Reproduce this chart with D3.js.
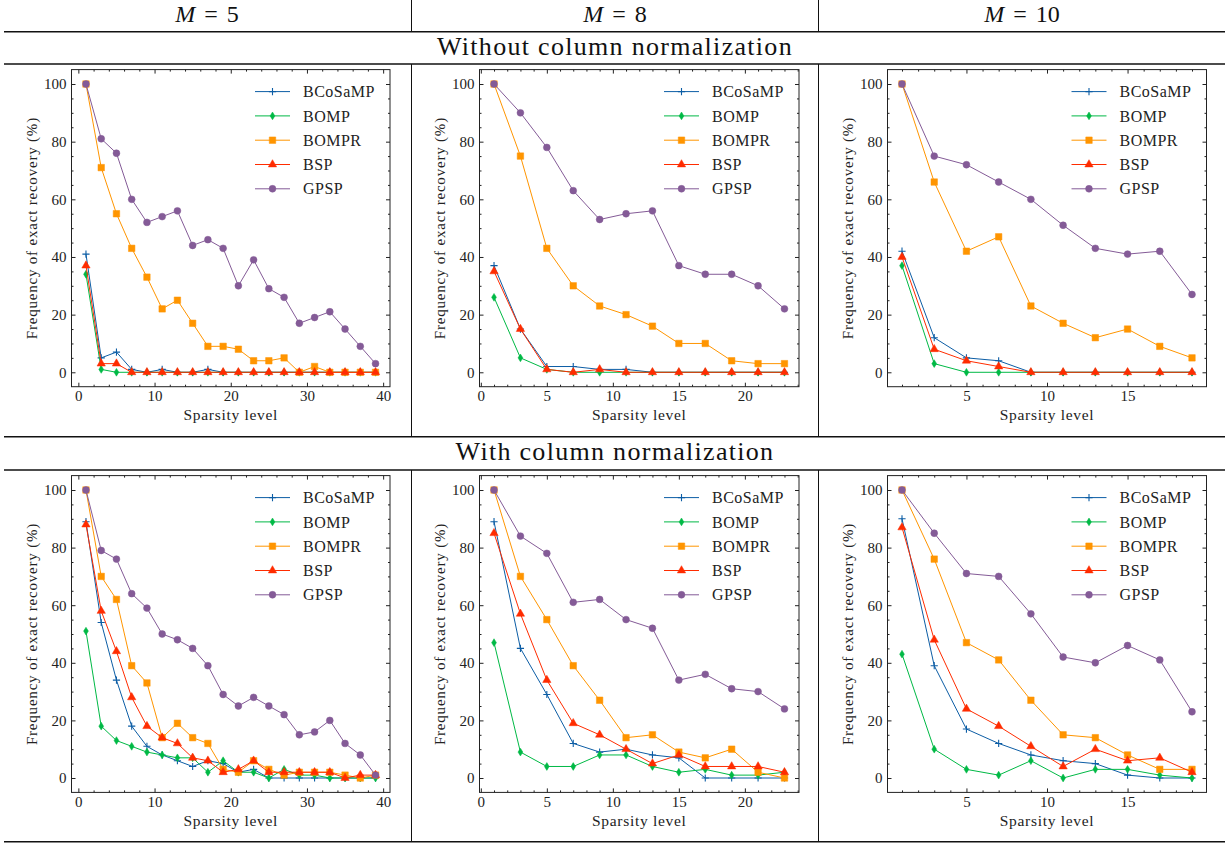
<!DOCTYPE html>
<html>
<head>
<meta charset="utf-8">
<script src="https://cdn.jsdelivr.net/npm/d3@7"></script>
<style>
  body { margin: 0; background: #fff; }
  svg { display: block; font-family: "Liberation Serif", serif; }
</style>
</head>
<body>
<svg width="1225" height="843"></svg>
<script>
// sparsity levels for each M
const sparsityM5 = [1, 3, 5, 7, 9, 11, 13, 15, 17, 19, 21, 23, 25, 27, 29, 31, 33, 35, 37, 39];
const sparsityM8 = [1, 3, 5, 7, 9, 11, 13, 15, 17, 19, 21, 23];
const sparsityM10 = [1, 3, 5, 7, 9, 11, 13, 15, 17, 19];

const algorithms = ["BCoSaMP", "BOMP", "BOMPR", "BSP", "GPSP"];
const columnTitles = ["5", "8", "10"];
const rowTitles = ["Without column normalization", "With column normalization"];

// without column normalization
const bcosampM5Raw = [41, 5, 7, 1, 0, 1, 0, 0, 1, 0, 0, 0, 0, 0, 0, 0, 0, 0, 0, 0];
const bompM5Raw = [34, 1, 0, 0, 0, 0, 0, 0, 0, 0, 0, 0, 0, 0, 0, 0, 0, 0, 0, 0];
const bomprM5Raw = [100, 71, 55, 43, 33, 22, 25, 17, 9, 9, 8, 4, 4, 5, 0, 2, 0, 0, 0, 0];
const bspM5Raw = [37, 3, 3, 0, 0, 0, 0, 0, 0, 0, 0, 0, 0, 0, 0, 0, 0, 0, 0, 0];
const gpspM5Raw = [100, 81, 76, 60, 52, 54, 56, 44, 46, 43, 30, 39, 29, 26, 17, 19, 21, 15, 9, 3];

const bcosampM8Raw = [37, 15, 2, 2, 1, 1, 0, 0, 0, 0, 0, 0];
const bompM8Raw = [26, 5, 1, 0, 0, 0, 0, 0, 0, 0, 0, 0];
const bomprM8Raw = [100, 75, 43, 30, 23, 20, 16, 10, 10, 4, 3, 3];
const bspM8Raw = [35, 15, 1, 0, 1, 0, 0, 0, 0, 0, 0, 0];
const gpspM8Raw = [100, 90, 78, 63, 53, 55, 56, 37, 34, 34, 30, 22];

const bcosampM10Raw = [42, 12, 5, 4, 0, 0, 0, 0, 0, 0];
const bompM10Raw = [37, 3, 0, 0, 0, 0, 0, 0, 0, 0];
const bomprM10Raw = [100, 66, 42, 47, 23, 17, 12, 15, 9, 5];
const bspM10Raw = [40, 8, 4, 2, 0, 0, 0, 0, 0, 0];
const gpspM10Raw = [100, 75, 72, 66, 60, 51, 43, 41, 42, 27];

// with column normalization
const bcosampM5Norm = [89, 54, 34, 18, 11, 8, 6, 4, 6, 5, 2, 3, 0, 0, 0, 0, 0, 0, 0, 0];
const bompM5Norm = [51, 18, 13, 11, 9, 8, 7, 7, 2, 6, 2, 2, 0, 3, 1, 1, 0, 0, 0, 0];
const bomprM5Norm = [100, 70, 62, 39, 33, 14, 19, 14, 12, 3, 2, 6, 3, 1, 2, 2, 2, 1, 0, 1];
const bspM5Norm = [88, 58, 44, 28, 18, 14, 12, 7, 6, 2, 3, 6, 2, 2, 2, 2, 2, 0, 1, 1];
const gpspM5Norm = [100, 79, 76, 64, 59, 50, 48, 45, 39, 29, 25, 28, 25, 22, 15, 16, 20, 12, 8, 1];

const bcosampM8Norm = [89, 45, 29, 12, 9, 10, 8, 7, 0, 0, 0, 0];
const bompM8Norm = [47, 9, 4, 4, 8, 8, 4, 2, 3, 1, 1, 2];
const bomprM8Norm = [100, 70, 55, 39, 27, 14, 15, 9, 7, 10, 2, 0];
const bspM8Norm = [85, 57, 34, 19, 15, 10, 5, 8, 4, 4, 4, 2];
const gpspM8Norm = [100, 84, 78, 61, 62, 55, 52, 34, 36, 31, 30, 24];

const bcosampM10Norm = [90, 39, 17, 12, 8, 6, 5, 1, 0, 0];
const bompM10Norm = [43, 10, 3, 1, 6, 0, 3, 3, 1, 0];
const bomprM10Norm = [100, 76, 47, 41, 27, 15, 14, 8, 3, 3];
const bspM10Norm = [87, 48, 24, 18, 11, 4, 10, 6, 7, 2];
const gpspM10Norm = [100, 85, 71, 70, 57, 42, 40, 46, 41, 23];

const xMajorM5 = [0, 10, 20, 30, 40];
const xMajorM8 = [0, 5, 10, 15, 20];
const xMajorM10 = [5, 10, 15];
const yMajor = [0, 20, 40, 60, 80, 100];

const panels = [
  { row: 0, col: 0, x: sparsityM5, xMajor: xMajorM5, minorStep: 2, series: [bcosampM5Raw, bompM5Raw, bomprM5Raw, bspM5Raw, gpspM5Raw] },
  { row: 0, col: 1, x: sparsityM8, xMajor: xMajorM8, minorStep: 1, series: [bcosampM8Raw, bompM8Raw, bomprM8Raw, bspM8Raw, gpspM8Raw] },
  { row: 0, col: 2, x: sparsityM10, xMajor: xMajorM10, minorStep: 1, series: [bcosampM10Raw, bompM10Raw, bomprM10Raw, bspM10Raw, gpspM10Raw] },
  { row: 1, col: 0, x: sparsityM5, xMajor: xMajorM5, minorStep: 2, series: [bcosampM5Norm, bompM5Norm, bomprM5Norm, bspM5Norm, gpspM5Norm] },
  { row: 1, col: 1, x: sparsityM8, xMajor: xMajorM8, minorStep: 1, series: [bcosampM8Norm, bompM8Norm, bomprM8Norm, bspM8Norm, gpspM8Norm] },
  { row: 1, col: 2, x: sparsityM10, xMajor: xMajorM10, minorStep: 1, series: [bcosampM10Norm, bompM10Norm, bomprM10Norm, bspM10Norm, gpspM10Norm] }
];

const svg = d3.select("svg");
const width = +svg.attr("width");

const color = d3.scaleOrdinal()
  .domain(algorithms)
  .range(["#0C5DA5", "#00B945", "#FF9500", "#FF2C00", "#845B97"]);

// marker shapes, matplotlib style: + d s ^ o
const markerPath = {
  BCoSaMP: "M-3.6,0H3.6M0,-3.6V3.6",
  BOMP: "M0,-3.9L2.4,0L0,3.9L-2.4,0Z",
  BOMPR: d3.symbol(d3.symbolSquare, 42)(),
  BSP: d3.symbol(d3.symbolTriangle, 30)(),
  GPSP: d3.symbol(d3.symbolCircle, 37)()
};

// table layout
const colBox = [[71.5, 390], [479.5, 799], [887.5, 1206.5]];
const rowBox = [[69.6, 386.7], [475.6, 792.4]];
const colCenters = [207, 615, 1022];
const vLines = [411.5, 818.5];

const table = svg.append("g");
[31.7, 64, 436.7, 470, 841.7].forEach(y => {
  table.append("line").attr("x1", 4).attr("x2", width).attr("y1", y).attr("y2", y)
    .attr("stroke", "#111").attr("stroke-width", 1.5);
});
[[0, 31.7], [64, 436.7], [470, 841.7]].forEach(([y1, y2]) => {
  vLines.forEach(x => {
    table.append("line").attr("x1", x).attr("x2", x).attr("y1", y1).attr("y2", y2)
      .attr("stroke", "#111").attr("stroke-width", 1);
  });
});

columnTitles.forEach((m, i) => {
  const t = svg.append("text")
    .attr("x", colCenters[i]).attr("y", 22)
    .attr("text-anchor", "middle")
    .style("font-size", "24px").style("fill", "#111");
  t.append("tspan").style("font-style", "italic").text("M");
  t.append("tspan").attr("dx", 9).text("=");
  t.append("tspan").attr("dx", 9).text(m);
});

[55, 460].forEach((y, i) => {
  svg.append("text")
    .attr("x", 615).attr("y", y)
    .attr("text-anchor", "middle")
    .style("font-size", "26px").style("letter-spacing", "1.3px").style("fill", "#111")
    .text(rowTitles[i]);
});

panels.forEach(p => {
  const [left, right] = colBox[p.col];
  const [top, bottom] = rowBox[p.row];
  const xMin = d3.min(p.x), xMax = d3.max(p.x);
  const pad = (xMax - xMin) * 0.05;

  const x = d3.scaleLinear().domain([xMin - pad, xMax + pad]).range([left, right]);
  const y = d3.scaleLinear().domain([-5, 105]).range([bottom, top]);

  const xMinor = d3.range(Math.ceil(x.domain()[0] / p.minorStep) * p.minorStep, x.domain()[1], p.minorStep)
    .filter(v => !p.xMajor.includes(v));
  const yMinor = d3.range(0, 105, 5).filter(v => !yMajor.includes(v));

  const g = svg.append("g");

  // inward ticks on all four sides
  const addAxis = (axis, tx, ty, labels) => {
    const a = g.append("g").attr("transform", `translate(${tx},${ty})`).call(axis);
    a.select(".domain").remove();
    a.selectAll("line").attr("stroke", "#222");
    if (!labels) a.selectAll("text").remove();
    else a.selectAll("text").style("font-size", "15px").style("font-family", "Liberation Serif").attr("fill", "#222");
  };
  addAxis(d3.axisBottom(x).tickValues(p.xMajor).tickSizeInner(-4).tickSizeOuter(0).tickPadding(4).tickFormat(d3.format("d")), 0, bottom, true);
  addAxis(d3.axisBottom(x).tickValues(xMinor).tickSizeInner(-2).tickSizeOuter(0), 0, bottom, false);
  addAxis(d3.axisTop(x).tickValues(p.xMajor).tickSizeInner(-4).tickSizeOuter(0), 0, top, false);
  addAxis(d3.axisTop(x).tickValues(xMinor).tickSizeInner(-2).tickSizeOuter(0), 0, top, false);
  addAxis(d3.axisLeft(y).tickValues(yMajor).tickSizeInner(-4).tickSizeOuter(0).tickPadding(5), left, 0, true);
  addAxis(d3.axisLeft(y).tickValues(yMinor).tickSizeInner(-2).tickSizeOuter(0), left, 0, false);
  addAxis(d3.axisRight(y).tickValues(yMajor).tickSizeInner(-4).tickSizeOuter(0), right, 0, false);
  addAxis(d3.axisRight(y).tickValues(yMinor).tickSizeInner(-2).tickSizeOuter(0), right, 0, false);

  g.append("rect")
    .attr("x", left).attr("y", top)
    .attr("width", right - left).attr("height", bottom - top)
    .attr("fill", "none").attr("stroke", "#222").attr("stroke-width", 1);

  g.append("text")
    .attr("x", (left + right) / 2).attr("y", bottom + 33.3)
    .attr("text-anchor", "middle")
    .style("font-size", "15.5px").style("letter-spacing", "0.7px").style("fill", "#222")
    .text("Sparsity level");

  g.append("text")
    .attr("transform", `translate(${left - 35},${(top + bottom) / 2}) rotate(-90)`)
    .attr("text-anchor", "middle")
    .style("font-size", "15px").style("letter-spacing", "0.8px").style("fill", "#222")
    .text("Frequency of exact recovery (%)");

  const line = d3.line().x(d => x(d[0])).y(d => y(d[1]));

  p.series.forEach((vals, i) => {
    const name = algorithms[i];
    const pts = p.x.map((xv, j) => [xv, vals[j]]);
    g.append("path")
      .datum(pts)
      .attr("d", line)
      .attr("fill", "none")
      .attr("stroke", color(name))
      .attr("stroke-width", 1);

    g.selectAll(null)
      .data(pts)
      .join("path")
      .attr("transform", d => `translate(${x(d[0])},${y(d[1])})`)
      .attr("d", markerPath[name])
      .attr("fill", name === "BCoSaMP" ? "none" : color(name))
      .attr("stroke", color(name))
      .attr("stroke-width", name === "BCoSaMP" ? 1.1 : 0.5);
  });

  // legend
  const legend = g.append("g");
  algorithms.forEach((name, i) => {
    const ly = top + 22 + i * 24.3;
    legend.append("line")
      .attr("x1", right - 135).attr("x2", right - 100)
      .attr("y1", ly).attr("y2", ly)
      .attr("stroke", color(name)).attr("stroke-width", 1);
    legend.append("path")
      .attr("transform", `translate(${right - 117.5},${ly})`)
      .attr("d", markerPath[name])
      .attr("fill", name === "BCoSaMP" ? "none" : color(name))
      .attr("stroke", color(name))
      .attr("stroke-width", name === "BCoSaMP" ? 1.1 : 0.5);
    legend.append("text")
      .attr("x", right - 87).attr("y", ly)
      .attr("dy", "0.35em")
      .style("font-size", "16px").style("letter-spacing", "0.5px").style("fill", "#222")
      .text(name);
  });
});
</script>
</body>
</html>
